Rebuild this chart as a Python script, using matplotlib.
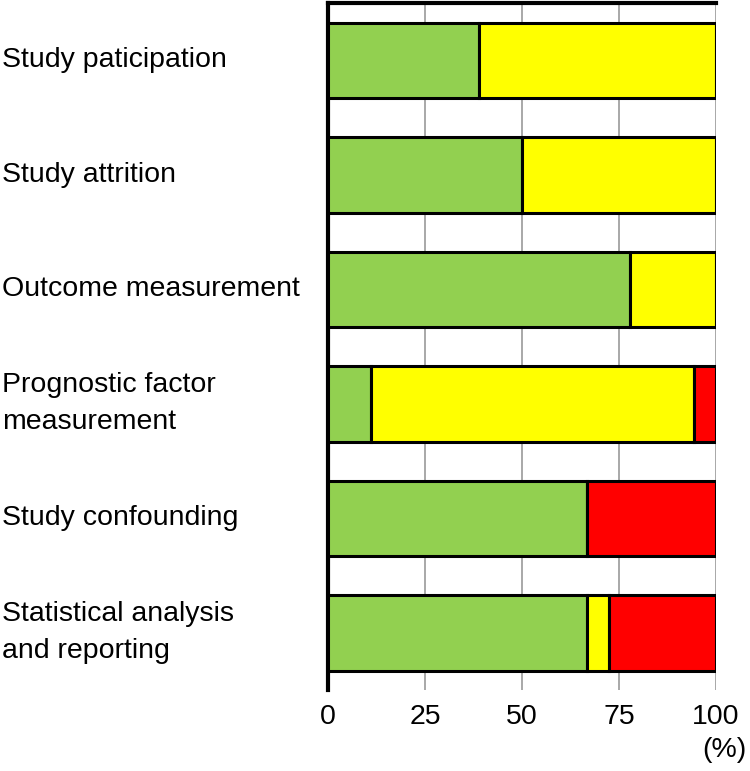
import matplotlib.pyplot as plt
import numpy as np

plt.rcParams['font.family'] = ['Liberation Sans', 'DejaVu Sans']

# domains (top to bottom)
domains = ["Study paticipation", "Study attrition", "Outcome measurement",
           "Prognostic factor\nmeasurement", "Study confounding",
           "Statistical analysis\nand reporting"]

# percentages of studies: low / moderate / high risk of bias
low = [38.9, 50.0, 77.8, 11.1, 66.7, 66.7]
moderate = [61.1, 50.0, 22.2, 83.3, 0.0, 5.6]
high = [0.0, 0.0, 0.0, 5.6, 33.3, 27.7]

ticks = [0, 25, 50, 75, 100]

fig = plt.figure(figsize=(7.5, 7.71), dpi=100)
ax = fig.add_axes([0.4373, 0.105, 0.5174, 0.891])

y = np.arange(len(domains))
low = np.array(low)
moderate = np.array(moderate)
high = np.array(high)

kw = dict(height=0.66, edgecolor="black", linewidth=2.2, zorder=3)
ax.barh(y, low, color="#92D050", **kw)
ax.barh(y, moderate, left=low, color="#FFFF00", **kw)
ax.barh(y, high, left=low + moderate, color="#FF0000", **kw)

ax.set_xlim(0, 100)
ax.set_ylim(len(domains) - 0.5, -0.5)
ax.set_xticks(ticks)
ax.set_xticklabels([str(t) for t in ticks], fontsize=20.5)
ax.tick_params(axis="x", length=0, pad=10)
ax.set_yticks([])
ax.grid(axis="x", color="#999999", linewidth=1.2, zorder=0)

ax.spines["right"].set_visible(False)
ax.spines["bottom"].set_visible(False)
ax.spines["left"].set_linewidth(3)
ax.spines["top"].set_linewidth(3)

for i, name in enumerate(domains):
    fig.text(0.003, ax.transData.transform((0, i))[1] / fig.bbox.height, name,
             fontsize=20.5, ha="left", va="center", linespacing=1.55)

fig.text(0.995, 0.027, "(%)", fontsize=20.5, ha="right", va="center")

fig.savefig("out.png", dpi=100)
